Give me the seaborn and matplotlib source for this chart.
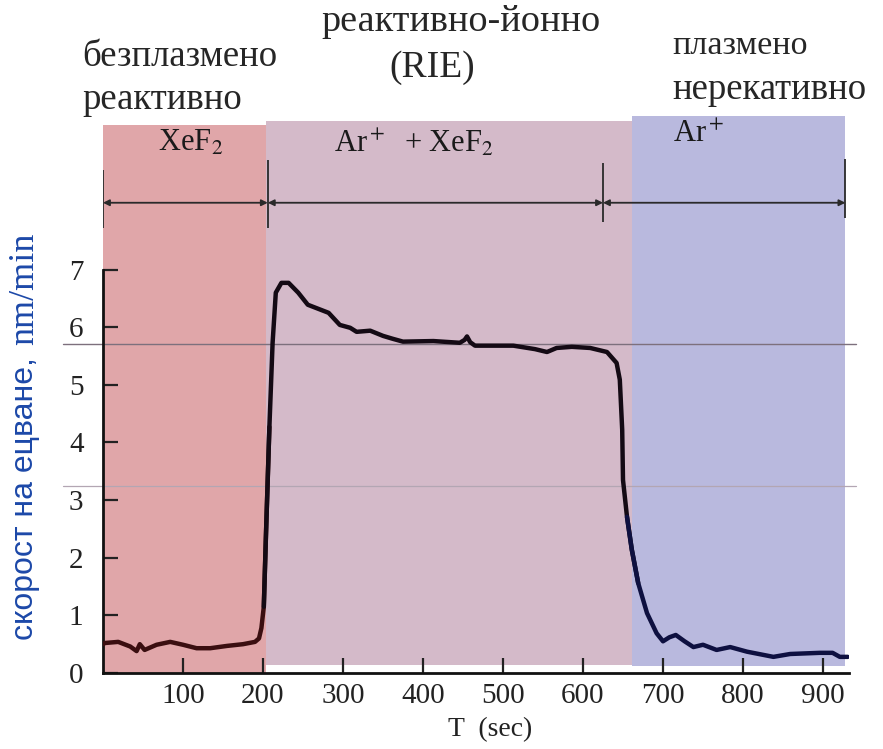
import numpy as np
import pandas as pd
import matplotlib
matplotlib.use("Agg")
import matplotlib.pyplot as plt
import seaborn as sns

# данни от графиката
time_s = [0, 2, 19, 34, 42, 46, 52, 67, 84, 100, 117, 134, 155, 175, 190, 195,
          198, 201, 204, 208, 212, 216, 223, 232, 244, 256, 269, 282, 296, 309,
          317, 334, 350, 362, 375, 413, 446, 452, 455, 459, 465, 513, 540, 555,
          567, 586, 609, 630, 642, 646, 649, 650, 655, 661, 669, 680, 692, 700,
          708, 716, 727, 738, 750, 767, 784, 805, 838, 859, 896, 912, 921, 931]
etch_rate = [0.50, 0.52, 0.54, 0.46, 0.38, 0.50, 0.40, 0.49, 0.54, 0.49, 0.43,
             0.43, 0.47, 0.50, 0.54, 0.60, 0.78, 1.15, 2.53, 4.27, 5.73, 6.60,
             6.77, 6.77, 6.60, 6.39, 6.32, 6.25, 6.04, 5.99, 5.92, 5.94, 5.85,
             5.80, 5.75, 5.76, 5.73, 5.78, 5.84, 5.74, 5.68, 5.68, 5.62, 5.57,
             5.64, 5.66, 5.64, 5.57, 5.38, 5.09, 4.22, 3.35, 2.71, 2.14, 1.56,
             1.04, 0.69, 0.55, 0.62, 0.66, 0.55, 0.45, 0.49, 0.40, 0.45, 0.37,
             0.28, 0.33, 0.35, 0.35, 0.28, 0.28]

# области (фази)
phase_names = ["XeF$_2$", "Ar$^+$  + XeF$_2$", "Ar$^+$"]
phase_edges = [0, 204, 661, 928]
phase_tops = [9.51, 9.57, 9.67]
phase_bottoms = [0.0, 0.14, 0.12]
phase_colors = ["#e0a6a9", "#d4bac9", "#b9b9de"]
line_colors = ["#3a0e10", "#140a14", "#0e1040"]
label_pos = [(109, 9.2), (389, 9.2), (744, 9.34)]

# стрелки над графиката
arrow_edges = [0, 206, 625, 928]
bar_lo = [7.73, 7.73, 7.83, 7.90]
bar_hi = [8.73, 8.90, 8.85, 8.92]
arrow_y = 8.16

x_ticks = [100, 200, 300, 400, 500, 600, 700, 800, 900]
y_ticks = [0, 1, 2, 3, 4, 5, 6, 7]
guide_lines = [5.71, 3.25]

df = pd.DataFrame({"T": time_s, "rate": etch_rate})

sns.set_style("white")
plt.rcParams["font.family"] = ["Liberation Serif", "DejaVu Serif"]
plt.rcParams["mathtext.fontset"] = "stix"

W, H = 883, 749
fig = plt.figure(figsize=(W / 100, H / 100), dpi=100)


def px(x, y):
    return x / W, 1 - y / H


ax = fig.add_axes([103 / W, 1 - 673 / H, 745.6 / W, 559 / H])
ax.set_xlim(0, 932)
ax.set_ylim(0, 9.7)

# цветни области
for i in range(3):
    ax.fill_between([phase_edges[i], phase_edges[i + 1]], phase_bottoms[i],
                    phase_tops[i], color=phase_colors[i], lw=0, zorder=0)
    ax.text(label_pos[i][0], label_pos[i][1], phase_names[i], ha="center",
            va="center", fontsize=22, color="#1a1a1a")

# сиви хоризонтални линии (от сканирането)
ax.axhline(guide_lines[0], xmin=-0.054, xmax=1.01, color="#7d707d", lw=1.0,
           clip_on=False, zorder=1)
ax.axhline(guide_lines[1], xmin=-0.054, xmax=1.01, color="#b3a6b3", lw=0.9,
           clip_on=False, zorder=1)

# крива по сегменти
for i in range(3):
    m = (df["T"] >= phase_edges[i]) & (df["T"] <= phase_edges[i + 1])
    idx = np.where(m)[0]
    lo = max(idx.min() - 1, 0)
    hi = min(idx.max() + 2, len(df))
    sns.lineplot(data=df.iloc[lo:hi], x="T", y="rate", ax=ax,
                 color=line_colors[i], lw=3.2, sort=False, zorder=3)

# стрелки
for i in range(3):
    ax.annotate("", xy=(arrow_edges[i + 1], arrow_y), xytext=(arrow_edges[i], arrow_y),
                arrowprops=dict(arrowstyle="<|-|>", mutation_scale=9, lw=1.3,
                                color="#2a2a2a", shrinkA=0, shrinkB=0))
ax.vlines(arrow_edges, bar_lo, bar_hi, color="#2a2a2a", lw=1.3)

# оси
sns.despine(ax=ax)
ax.spines["left"].set_bounds(0, 7)
ax.spines["bottom"].set_bounds(0, 932)
for s in ["left", "bottom"]:
    ax.spines[s].set_linewidth(2)
    ax.spines[s].set_color("#111111")
ax.set_xticks(x_ticks)
ax.set_yticks(y_ticks)
ax.tick_params(direction="in", length=11, width=1.6, color="#222222",
               labelsize=21, labelcolor="#222222", left=True, bottom=True)
ax.tick_params(axis="y", pad=14)
ax.tick_params(axis="x", pad=7)
ax.set_xlabel("")
ax.set_ylabel("")

fig.text(*px(490, 730), "T  (sec)", ha="center", va="center", fontsize=20,
         color="#222222")

# етикет на оста y
fig.text(*px(25, 640), "скорост на ецване,", rotation=90, ha="center",
         va="bottom", fontsize=23, color="#1c48a8", family=["Liberation Sans"])
fig.text(*px(25, 345), "nm/min", rotation=90, ha="center", va="bottom",
         fontsize=26, color="#1c48a8")

# надписи отгоре
fig.text(*px(82, 57), "безплазмено", ha="left", va="center", fontsize=26.5)
fig.text(*px(82, 100), "реактивно", ha="left", va="center", fontsize=26.5)
fig.text(*px(461, 22), "реактивно-йонно", ha="center", va="center", fontsize=27.5)
fig.text(*px(432, 68), "(RIE)", ha="center", va="center", fontsize=27)
fig.text(*px(672, 46), "плазмено", ha="left", va="center", fontsize=24.5)
fig.text(*px(672, 90), "нерекативно", ha="left", va="center", fontsize=26.5)

fig.savefig("out.png", dpi=100)
